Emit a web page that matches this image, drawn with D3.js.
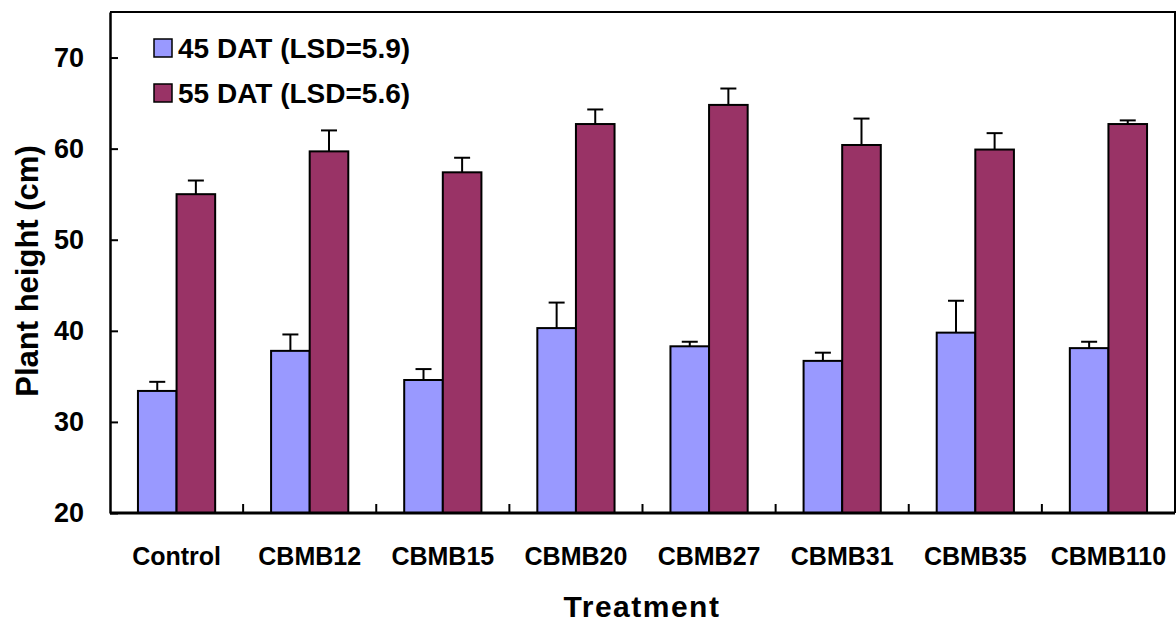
<!DOCTYPE html>
<html>
<head>
<meta charset="utf-8">
<script src="https://cdn.jsdelivr.net/npm/d3@7"></script>
<style>
  html, body { margin: 0; padding: 0; background: #fff; }
  svg { display: block; font-family: "Liberation Sans", Arial, sans-serif; font-weight: bold; }
</style>
</head>
<body>
<svg id="chart" width="1176" height="626"></svg>
<script>
// Plant height by treatment at two sampling dates
const categories = ["Control", "CBMB12", "CBMB15", "CBMB20", "CBMB27", "CBMB31", "CBMB35", "CBMB110"];
const dat45 = [33.4, 37.8, 34.6, 40.3, 38.3, 36.7, 39.8, 38.1];
const err45 = [1.0, 1.8, 1.2, 2.8, 0.5, 0.9, 3.5, 0.7];
const dat55 = [55.0, 59.7, 57.4, 62.7, 64.8, 60.4, 59.9, 62.7];
const err55 = [1.5, 2.3, 1.6, 1.6, 1.8, 2.9, 1.8, 0.4];
const seriesNames = ["45 DAT (LSD=5.9)", "55 DAT (LSD=5.6)"];
const seriesColors = ["#9999FF", "#993366"];
const yTicks = [20, 30, 40, 50, 60, 70];

const svg = d3.select("#chart");
const plot = { left: 110, right: 1175, top: 12, bottom: 513 };

const x = d3.scaleBand().domain(categories).range([plot.left, plot.right]).padding(0);
const y = d3.scaleLinear().domain([20, 75]).range([plot.bottom, plot.top]);
const barW = x.bandwidth() * 0.29;

const series = [
  { name: seriesNames[0], color: seriesColors[0], values: dat45, errs: err45, offset: -1 },
  { name: seriesNames[1], color: seriesColors[1], values: dat55, errs: err55, offset: 0 }
];

// bars and upper error bars
series.forEach(s => {
  const g = svg.append("g");
  categories.forEach((c, i) => {
    const cx = x(c) + x.bandwidth() / 2;
    const x0 = cx + s.offset * barW;
    g.append("line")
      .attr("x1", x0 + barW / 2).attr("x2", x0 + barW / 2)
      .attr("y1", y(s.values[i])).attr("y2", y(s.values[i] + s.errs[i]))
      .attr("stroke", "#000").attr("stroke-width", 2);
    g.append("line")
      .attr("x1", x0 + barW / 2 - 8).attr("x2", x0 + barW / 2 + 8)
      .attr("y1", y(s.values[i] + s.errs[i])).attr("y2", y(s.values[i] + s.errs[i]))
      .attr("stroke", "#000").attr("stroke-width", 2);
    g.append("rect")
      .attr("x", x0).attr("width", barW)
      .attr("y", y(s.values[i])).attr("height", y(20) - y(s.values[i]))
      .attr("fill", s.color).attr("stroke", "#000").attr("stroke-width", 2);
  });
});

// plot frame (top and right edges)
svg.append("path")
  .attr("d", `M${plot.left},${plot.top}H${plot.right}V${plot.bottom}`)
  .attr("fill", "none").attr("stroke", "#000").attr("stroke-width", 2);

// y axis with inward ticks
const yAxis = d3.axisLeft(y).tickValues(yTicks).tickSizeInner(-8).tickSizeOuter(0).tickPadding(26);
const gy = svg.append("g").attr("transform", `translate(${plot.left},0)`).call(yAxis);
gy.select(".domain").attr("stroke-width", 2.5);
gy.selectAll(".tick line").attr("stroke-width", 2);
gy.selectAll(".tick text").attr("font-size", 27).attr("font-weight", "bold")
  .attr("font-family", "Liberation Sans, Arial, sans-serif").attr("fill", "#000");

// x axis: separators between categories, pointing up
const gx = svg.append("g").attr("transform", `translate(0,${plot.bottom})`);
gx.append("line").attr("x1", plot.left).attr("x2", plot.right).attr("y1", 0).attr("y2", 0)
  .attr("stroke", "#000").attr("stroke-width", 3);
categories.slice(1).forEach(c => {
  gx.append("line").attr("x1", x(c)).attr("x2", x(c)).attr("y1", 0).attr("y2", -9)
    .attr("stroke", "#000").attr("stroke-width", 2);
});
categories.forEach(c => {
  gx.append("text")
    .attr("x", x(c) + x.bandwidth() / 2).attr("y", 52)
    .attr("text-anchor", "middle").attr("font-size", 25).attr("fill", "#000")
    .text(c);
});

// axis titles
svg.append("text")
  .attr("x", 642).attr("y", 617)
  .attr("text-anchor", "middle").attr("font-size", 30).attr("letter-spacing", 1.5).attr("fill", "#000")
  .text("Treatment");
svg.append("text")
  .attr("transform", "translate(38,271) rotate(-90)")
  .attr("text-anchor", "middle").attr("font-size", 31).attr("fill", "#000")
  .text("Plant height (cm)");

// legend
const legend = svg.append("g");
series.forEach((s, i) => {
  const ly = 48 + i * 45;
  legend.append("rect").attr("x", 154).attr("y", ly - 9).attr("width", 18).attr("height", 18)
    .attr("fill", s.color).attr("stroke", "#000").attr("stroke-width", 1.5);
  legend.append("text").attr("x", 178).attr("y", ly + 10)
    .attr("font-size", 28).attr("fill", "#000").text(s.name);
});
</script>
</body>
</html>
